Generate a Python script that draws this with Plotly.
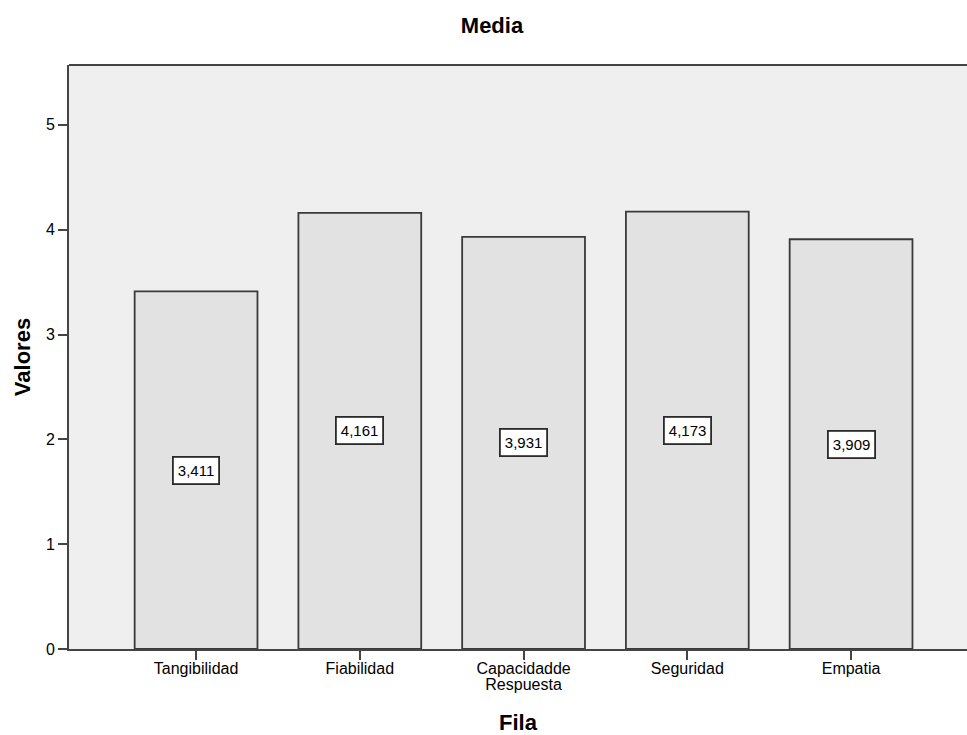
import plotly.graph_objects as go

# Mean score per service-quality dimension
categories = ["Tangibilidad", "Fiabilidad", "Capacidadde<br>Respuesta", "Seguridad", "Empatia"]
means = [3.411, 4.161, 3.931, 4.173, 3.909]
y_ticks = [0, 1, 2, 3, 4, 5]

FONT = "Liberation Sans, Arial, sans-serif"
AXIS_COLOR = "#444444"


def tick_label(text):
    # Larger glyphs on a smaller base font keep the two-line label tightly spaced
    return "<br>".join(f'<span style="font-size:16px">{part}</span>' for part in text.split("<br>"))


fig = go.Figure()
fig.add_trace(go.Bar(
    x=list(range(len(categories))),
    y=means,
    width=0.75,
    marker=dict(color="#e2e2e2", line=dict(color="#3a3a3a", width=1.8)),
    hoverinfo="skip",
))

# Boxed value labels centred inside each bar
for i, v in enumerate(means):
    fig.add_annotation(
        x=i, y=v / 2, xref="x", yref="y",
        text=f"{v:.3f}".replace(".", ","),
        showarrow=False,
        font=dict(family=FONT, size=15, color="#000000"),
        bgcolor="#ffffff", bordercolor="#2a2a2a", borderwidth=1.8, borderpad=4,
    )

# Top border of the plot frame
fig.add_shape(type="line", xref="paper", yref="paper", x0=0, x1=1, y0=1, y1=1,
              line=dict(color=AXIS_COLOR, width=2))

fig.update_layout(
    width=967, height=735, autosize=False,
    margin=dict(l=69, r=0, t=65, b=86),
    paper_bgcolor="#ffffff", plot_bgcolor="#efefef",
    showlegend=False,
    title=dict(text="<b>Media</b>", xref="container", yref="container",
               x=492 / 967, y=1 - 25 / 735, xanchor="center", yanchor="middle",
               font=dict(family=FONT, size=22, color="#000000")),
    font=dict(family=FONT, size=12, color="#000000"),
)

fig.update_xaxes(
    range=[-0.776, 4.708],
    tickmode="array", tickvals=list(range(len(categories))),
    ticktext=[tick_label(c) for c in categories],
    ticks="outside", ticklen=9, tickwidth=1.5, tickcolor=AXIS_COLOR,
    showline=True, linecolor=AXIS_COLOR, linewidth=2,
    showgrid=False, zeroline=False,
    tickfont=dict(family=FONT, size=12, color="#000000"),
    title=dict(text="<b>Fila</b>", standoff=24,
               font=dict(family=FONT, size=22, color="#000000")),
)
fig.update_yaxes(
    range=[0, 5.571],
    tickmode="array", tickvals=y_ticks, ticktext=[str(t) for t in y_ticks],
    ticks="outside", ticklen=9, tickwidth=1.5, tickcolor=AXIS_COLOR,
    showline=True, linecolor=AXIS_COLOR, linewidth=2,
    showgrid=False, zeroline=False,
    tickfont=dict(family=FONT, size=16, color="#000000"),
    title=dict(text="<b>Valores</b>", standoff=9,
               font=dict(family=FONT, size=22, color="#000000")),
)

fig.write_html("out.html")
